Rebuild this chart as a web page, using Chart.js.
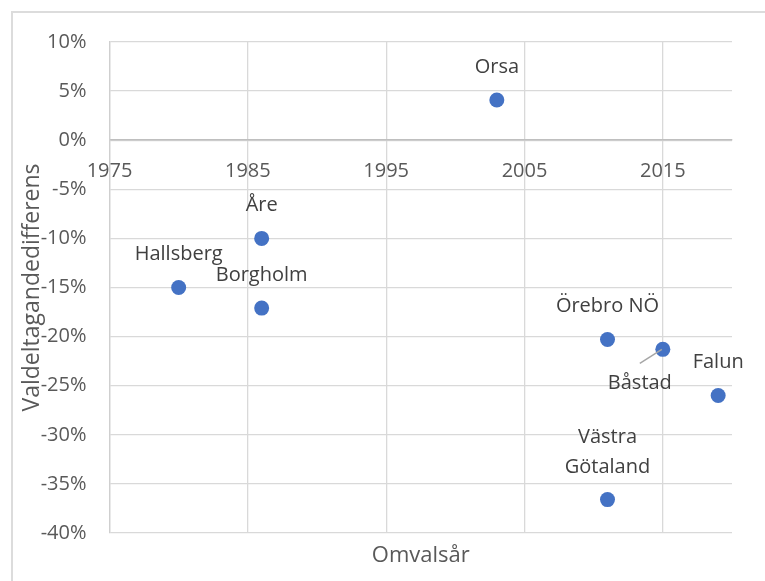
<!DOCTYPE html>
<html>
<head>
<meta charset="utf-8">
<script src="https://cdn.jsdelivr.net/npm/chart.js@4/dist/chart.umd.min.js"></script>
<style>
  html, body { margin: 0; padding: 0; background: #fff; }
  #wrap { position: relative; width: 765px; height: 581px; overflow: hidden; }
  #frame { position: absolute; left: 11px; top: 11px; width: 800px; height: 620px; border: 2px solid #dcdcdc; box-sizing: border-box; }
  #chart { position: absolute; left: 0; top: 0; }
</style>
</head>
<body>
<div id="wrap">
  <div id="frame"></div>
  <canvas id="chart" width="765" height="581"></canvas>
</div>
<script>
// data
const places = ['Orsa', 'Åre', 'Hallsberg', 'Borgholm', 'Örebro NÖ', 'Båstad', 'Falun', 'Västra Götaland'];
const reelectionYears = [2003, 1986, 1980, 1986, 2011, 2015, 2019, 2011];
const turnoutDiff = [4.1, -10.0, -15.0, -17.1, -20.3, -21.3, -26.0, -36.6]; // percent
const xTicks = [1975, 1985, 1995, 2005, 2015];

// how each label sits next to its point
const labelPlacement = ['above', 'above', 'above', 'above', 'above', 'belowLeft', 'above', 'aboveWrapped'];

const FONT = "'Open Sans', sans-serif";
const GRID = '#d9d9d9';

// draws the data labels (and the leader line for Båstad) + the x axis title
const labelPlugin = {
    id: 'labels',
    afterDatasetsDraw(chart) {
        const ctx = chart.ctx;
        const meta = chart.getDatasetMeta(0);
        ctx.save();
        ctx.font = '20px ' + FONT;
        ctx.fillStyle = '#404040';
        ctx.textAlign = 'center';
        ctx.textBaseline = 'middle';
        meta.data.forEach((pt, i) => {
            const name = places[i];
            const how = labelPlacement[i];
            if (how === 'above') {
                ctx.fillText(name, pt.x, pt.y - 33);
            } else if (how === 'aboveWrapped') {
                const parts = name.split(' ');
                ctx.fillText(parts[0], pt.x, pt.y - 62);
                ctx.fillText(parts[1], pt.x, pt.y - 32);
            } else if (how === 'belowLeft') {
                ctx.strokeStyle = '#a6a6a6';
                ctx.lineWidth = 1.5;
                ctx.beginPath();
                ctx.moveTo(pt.x - 23, pt.y + 14);
                ctx.lineTo(pt.x - 1, pt.y);
                ctx.stroke();
                ctx.fillText(name, pt.x - 23, pt.y + 34);
            }
        });
        // x axis title sits under the plot, not under the 0% axis line
        const area = chart.chartArea;
        ctx.font = '22px ' + FONT;
        ctx.fillStyle = '#595959';
        ctx.fillText('Omvalsår', (area.left + area.right) / 2, 556);
        ctx.restore();
    }
};

new Chart(document.getElementById('chart'), {
    type: 'scatter',
    data: {
        datasets: [{
            data: reelectionYears.map((yr, i) => ({ x: yr, y: turnoutDiff[i] })),
            backgroundColor: '#4472C4',
            borderColor: '#4472C4',
            pointRadius: 7.5,
            pointHoverRadius: 7.5,
            borderWidth: 0
        }]
    },
    plugins: [labelPlugin],
    options: {
        responsive: false,
        animation: false,
        events: [],
        layout: { padding: { left: 12, right: 33, top: 42, bottom: 48 } },
        plugins: { legend: { display: false }, tooltip: { enabled: false } },
        scales: {
            x: {
                type: 'linear',
                position: { y: 0 },
                min: 1975,
                max: 2020,
                afterBuildTicks: s => { s.ticks = xTicks.map(v => ({ value: v })); },
                grid: { color: GRID, lineWidth: 1.3, drawTicks: false },
                border: { color: '#bfbfbf', width: 1.5 },
                ticks: {
                    color: '#595959',
                    font: { family: FONT, size: 20 },
                    padding: 19,
                    maxRotation: 0,
                    callback: v => String(v)
                }
            },
            y: {
                min: -40,
                max: 10,
                afterFit: s => { s.width = 97.5; },
                grid: { color: GRID, lineWidth: 1.3, drawTicks: false },
                border: { color: '#cfcfcf', width: 1.3 },
                ticks: {
                    stepSize: 5,
                    color: '#595959',
                    font: { family: FONT, size: 20 },
                    padding: 23,
                    callback: v => v + '%'
                },
                title: {
                    display: true,
                    text: 'Valdeltagandedifferens',
                    color: '#595959',
                    font: { family: FONT, size: 23 },
                    padding: { top: 7, bottom: 0 }
                }
            }
        }
    }
});
</script>
</body>
</html>
